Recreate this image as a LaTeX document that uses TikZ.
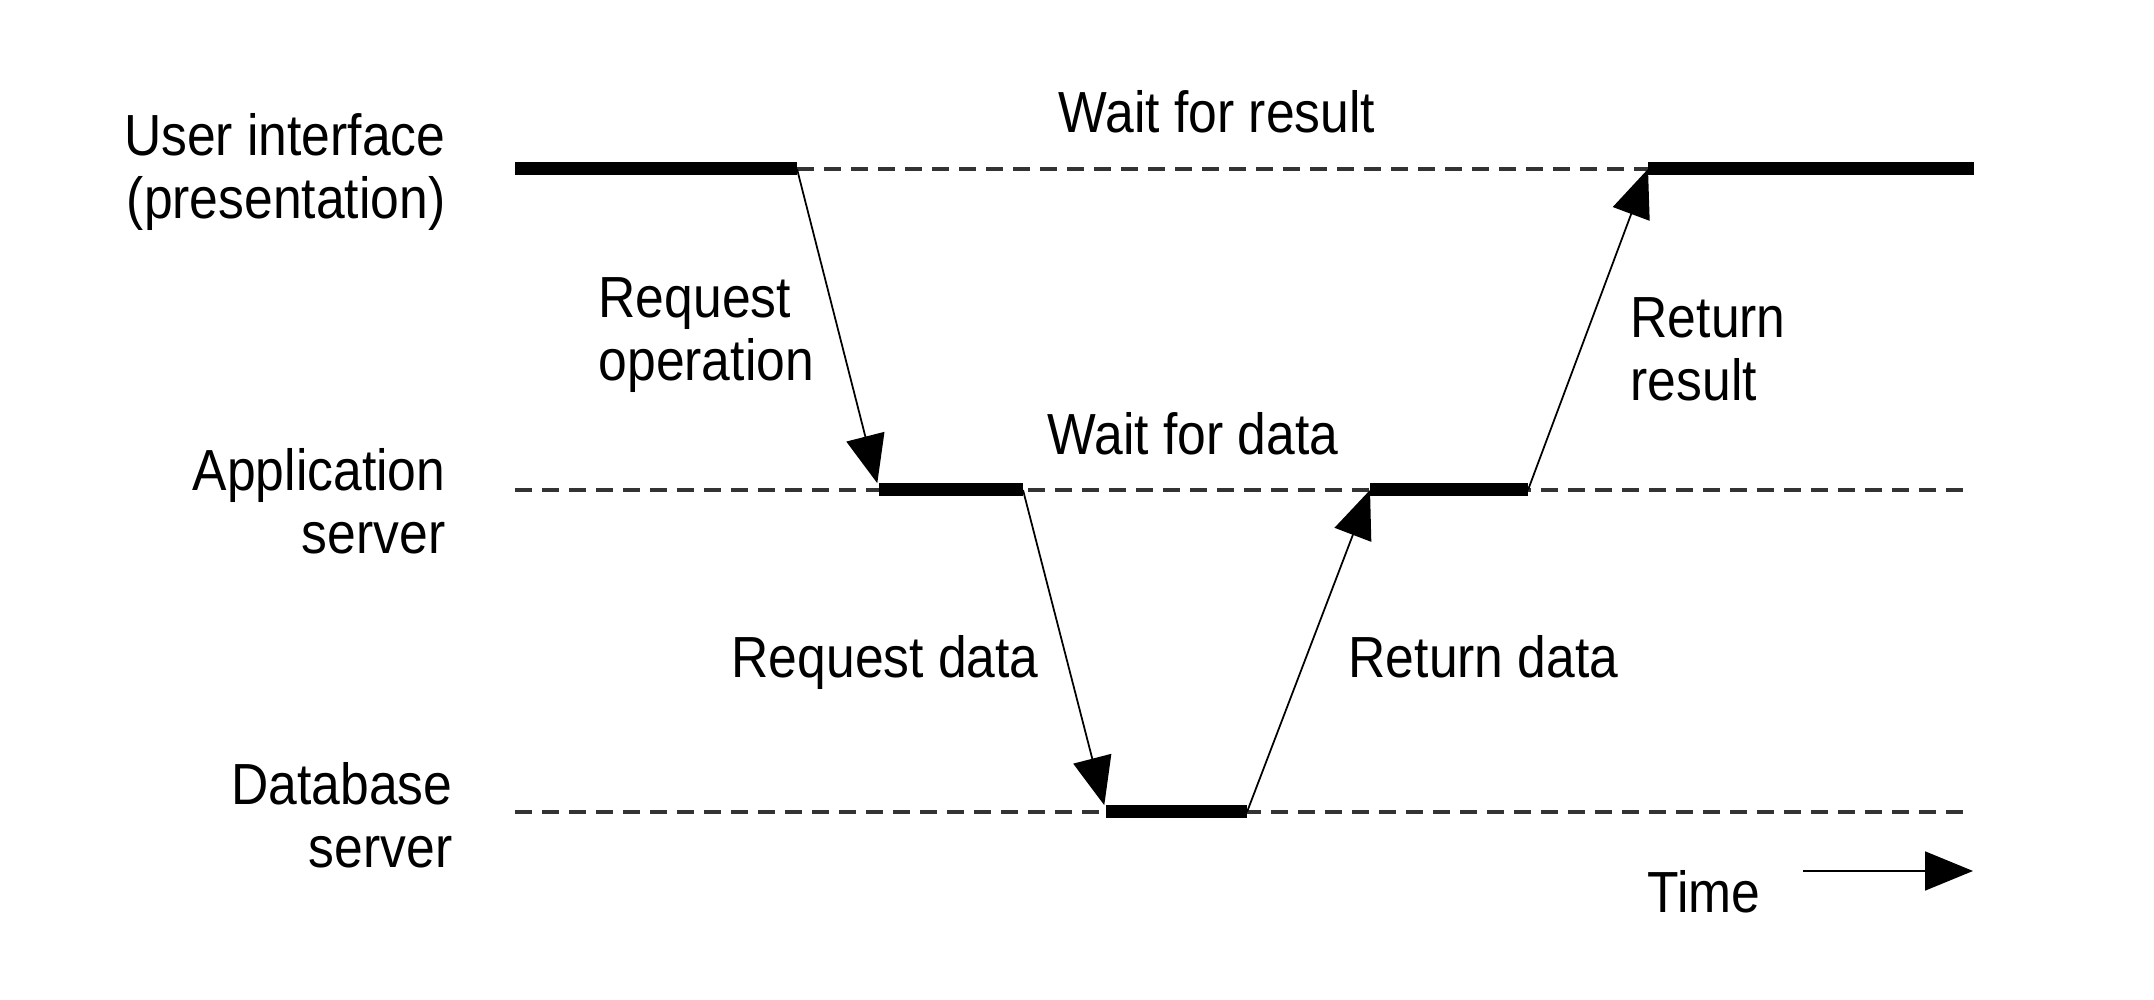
\documentclass[tikz,border=0pt]{standalone}
\usepackage{fontspec}
\setmainfont{Liberation Sans}[FakeStretch=0.89]
\usetikzlibrary{arrows.meta}

\begin{document}
\begin{tikzpicture}[x = 1cm, y = 1cm,
lane/.style = {dash pattern = on 1.7mm off 1.0mm, line width = 0.9pt, black!80},
busy/.style = {line width = 3.7pt},
msg/.style = {-{Triangle[length = 4.8mm, width = 3.9mm]}, line width = 0.5pt},
lbl/.style = {inner sep = 0pt, font = \fontsize{16.5pt}{17.9pt}\selectfont}]
\useasboundingbox (0,0) rectangle (21.54,10);

% lanes
\coordinate (U0) at (5.15,8.31); \coordinate (U1) at (7.97,8.31); \coordinate (U2) at (16.48,8.31); \coordinate (U9) at (19.74,8.31);
\coordinate (A0) at (5.15,5.10); \coordinate (A1) at (8.79,5.10); \coordinate (A2) at (10.23,5.10);
\coordinate (A3) at (13.70,5.10); \coordinate (A4) at (15.28,5.10); \coordinate (A9) at (19.72,5.10);
\coordinate (D0) at (5.15,1.88); \coordinate (D1) at (11.06,1.88); \coordinate (D2) at (12.47,1.88); \coordinate (D9) at (19.72,1.88);

\draw[lane] (U1) -- (U2) (A0) -- (A9) (D0) -- (D9);
\draw[busy] (U0) -- (U1) (U2) -- (U9) (A1) -- (A2) (A3) -- (A4) (D1) -- (D2);

% messages
\draw[msg, shorten >= 0.7mm] (U1) -- (A1);
\draw[msg, shorten >= 0.7mm] (A2) -- (D1);
\draw[msg] (D2) -- (A3);
\draw[msg] (A4) -- (U2);

% labels
\node[lbl, anchor = north east, align = right] (UI) at (4.46,8.87) {User interface\\(presentation)};
\node[lbl, anchor = north east, align = right] (AS) at (4.46,5.52) {Application\\server};
\node[lbl, anchor = north east, align = right] (DS) at (4.53,2.38) {Database\\server};
\node[lbl, anchor = base west] (WR) at (10.58,8.67) {Wait for result};
\node[lbl, anchor = base west] (WD) at (10.47,5.45) {Wait for data};
\node[lbl, anchor = north west, align = left] (RO) at (5.98,7.23) {Request\\operation};
\node[lbl, anchor = north west, align = left] (RR) at (16.30,7.03) {Return\\result};
\node[lbl, anchor = base west] (RQ) at (7.31,3.22) {Request data};
\node[lbl, anchor = base west] (RD) at (13.48,3.22) {Return data};

% time axis
\node[lbl, anchor = base west] (T) at (16.47,0.87) {Time};
\coordinate (T0) at (18.03,1.29); \coordinate (T1) at (19.73,1.29);
\draw[msg] (T0) -- (T1);
\end{tikzpicture}
\end{document}
